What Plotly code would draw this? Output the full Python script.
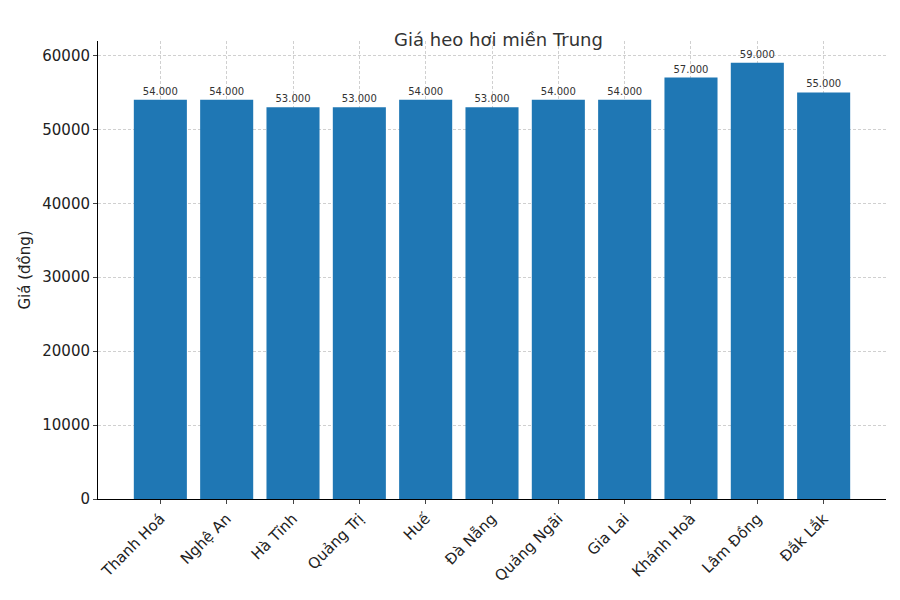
import plotly.graph_objects as go

provinces = ["Thanh Hoá", "Nghệ An", "Hà Tĩnh", "Quảng Trị", "Huế", "Đà Nẵng",
             "Quảng Ngãi", "Gia Lai", "Khánh Hoà", "Lâm Đồng", "Đắk Lắk"]
prices = [54000, 54000, 53000, 53000, 54000, 53000, 54000, 54000, 57000, 59000, 55000]
labels = [f"{p:,}".replace(",", ".") for p in prices]

fig = go.Figure()
fig.add_trace(go.Bar(
    x=list(range(len(provinces))), y=prices, width=0.8,
    marker=dict(color="#1f77b4", line=dict(width=0)),
    text=labels, textposition="outside", cliponaxis=False,
    textfont=dict(size=10, color="#333333"),
))

fig.update_layout(
    width=900, height=600,
    title=dict(text="Giá heo hơi miền Trung", x=0.545, y=0.958, xanchor="center",
               font=dict(size=18, color="#333333")),
    font=dict(family="DejaVu Sans", color="#222222"),
    plot_bgcolor="white", paper_bgcolor="white",
    margin=dict(l=90, r=22, t=33, b=109, autoexpand=False),
    showlegend=False, bargap=0.2,
    uniformtext=dict(minsize=10, mode="show"),
)
fig.update_xaxes(
    range=[-0.94, 10.94], tickmode="array",
    tickvals=list(range(len(provinces))), ticktext=provinces,
    tickangle=-45, tickfont=dict(size=15), automargin=False,
    showline=True, linecolor="black", ticks="outside", ticklen=4,
    showgrid=True, gridcolor="#d0d0d0", griddash="3px,2px", gridwidth=0.6,
)
fig.update_yaxes(
    range=[0, 61950], tickvals=[0, 10000, 20000, 30000, 40000, 50000, 60000],
    tickformat="d", tickfont=dict(size=15), automargin=False,
    title=dict(text="Giá (đồng)", font=dict(size=15), standoff=8),
    showline=True, linecolor="black", ticks="outside", ticklen=4,
    showgrid=True, gridcolor="#d0d0d0", griddash="3px,2px", gridwidth=0.6,
    zeroline=False,
)

fig.write_html("out.html")
